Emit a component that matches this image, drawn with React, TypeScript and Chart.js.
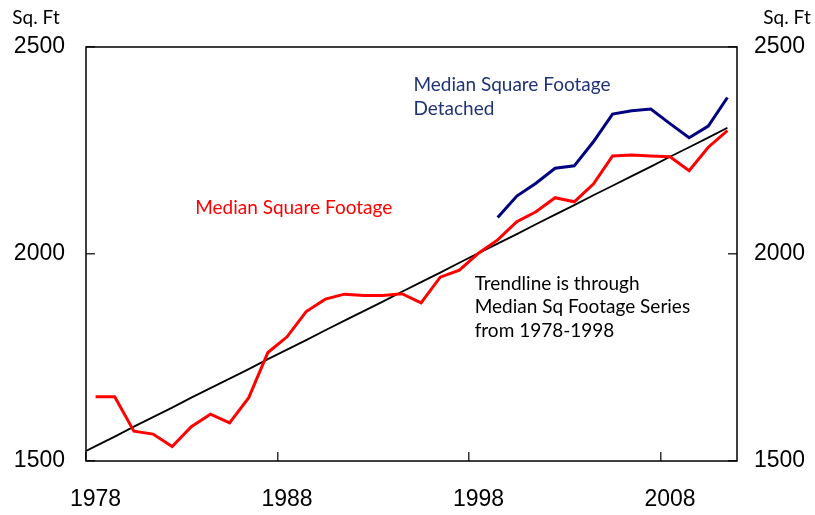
import { useEffect, useRef } from "react";
import { Chart, registerables } from "chart.js";
Chart.register(...registerables);

const years = [
  "1978","1979","1980","1981","1982","1983","1984","1985","1986","1987",
  "1988","1989","1990","1991","1992","1993","1994","1995","1996","1997",
  "1998","1999","2000","2001","2002","2003","2004","2005","2006","2007",
  "2008","2009","2010","2011",
];
const tickYears = ["1978", "1988", "1998", "2008"];
const medianSqFt = [
  1655, 1655, 1572, 1565, 1535, 1583, 1613, 1592, 1653, 1762,
  1800, 1861, 1891, 1903, 1900, 1900, 1904, 1882, 1944, 1961,
  2002, 2034, 2078, 2102, 2136, 2126, 2169, 2237, 2239, 2237,
  2235, 2201, 2258, 2298,
];
const medianDetached = [
  null, null, null, null, null, null, null, null, null, null,
  null, null, null, null, null, null, null, null, null, null,
  null, 2088, 2140, 2171, 2207, 2213, 2271, 2338, 2346, 2350,
  2315, 2281, 2309, 2378,
];
const trendYears = [
  1977.5, 1978, 1979, 1980, 1981, 1982, 1983, 1984, 1985, 1986, 1987,
  1988, 1989, 1990, 1991, 1992, 1993, 1994, 1995, 1996, 1997,
  1998, 1999, 2000, 2001, 2002, 2003, 2004, 2005, 2006, 2007,
  2008, 2009, 2010, 2011,
];
const trendValues = [
  1524, 1536, 1559, 1583, 1606, 1629, 1653, 1676, 1699, 1722, 1746,
  1769, 1792, 1816, 1839, 1862, 1885, 1909, 1932, 1955, 1979,
  2002, 2025, 2048, 2072, 2095, 2118, 2142, 2165, 2188, 2211,
  2235, 2258, 2281, 2305,
];
const yTicks = [1500, 2000, 2500];

const TEXT_FONT = "Lato, 'Open Sans', sans-serif";
const TICK_FONT = "'Liberation Sans', Arial, sans-serif";

const annotations = [
  { lines: ["Median Square Footage"], year: 1983.2, value: 2111, color: "#ff0000" },
  { lines: ["Median Square Footage", "Detached"], year: 1994.6, value: 2408, color: "#1f3473" },
  { lines: ["Trendline is through", "Median Sq Footage Series", "from 1978-1998"], year: 1997.8, value: 1928, color: "#000000" },
];

const decorPlugin = {
  id: "decor",
  afterDatasetsDraw(chart: any) {
    const { ctx, chartArea } = chart;
    ctx.save();
    ctx.strokeStyle = "#000";
    ctx.lineWidth = 1.5;
    ctx.strokeRect(chartArea.left, chartArea.top, chartArea.right - chartArea.left, chartArea.bottom - chartArea.top);
    const xs = chart.scales.x2;
    const ys = chart.scales.y;
    ctx.font = `19px ${TEXT_FONT}`;
    ctx.textBaseline = "middle";
    ctx.textAlign = "left";
    for (const a of annotations) {
      ctx.fillStyle = a.color;
      const x = xs.getPixelForValue(a.year);
      const y0 = ys.getPixelForValue(a.value);
      a.lines.forEach((l, i) => ctx.fillText(l, x, y0 + i * 23.5));
    }
    ctx.fillStyle = "#000";
    ctx.textAlign = "center";
    ctx.fillText("Sq. Ft", chartArea.left - 50, 18);
    ctx.fillText("Sq. Ft", chartArea.right + 50, 18);
    ctx.restore();
  },
};

export default function App() {
  const ref = useRef<HTMLCanvasElement>(null);
  useEffect(() => {
    if (!ref.current) return;
    const chart = new Chart(ref.current, {
      type: "line",
      data: {
        labels: years,
        datasets: [
          {
            label: "Median Square Footage Detached",
            data: medianDetached,
            borderColor: "#000080",
            borderWidth: 3,
            pointRadius: 0,
            tension: 0,
            spanGaps: false,
          },
          {
            label: "Median Square Footage",
            data: medianSqFt,
            borderColor: "#ff0000",
            borderWidth: 3,
            pointRadius: 0,
            tension: 0,
          },
          {
            label: "Trendline",
            data: trendYears.map((x, i) => ({ x, y: trendValues[i] })),
            xAxisID: "x2",
            borderColor: "#000000",
            borderWidth: 1.8,
            pointRadius: 0,
            tension: 0,
          } as any,
        ],
      },
      options: {
        animation: false,
        responsive: true,
        maintainAspectRatio: false,
        layout: { padding: { top: 47, left: 0, right: 0, bottom: 0 } },
        plugins: { legend: { display: false }, tooltip: { enabled: false } },
        scales: {
          x: {
            type: "category",
            offset: true,
            border: { display: false },
            grid: {
              offset: true,
              drawOnChartArea: false,
              drawTicks: true,
              tickLength: -9,
              lineWidth: 1.5,
              color: (c: any) => (tickYears.includes(years[c.index]) ? "#333" : "rgba(0,0,0,0)"),
            },
            ticks: {
              autoSkip: false,
              maxRotation: 0,
              padding: 34,
              color: "#000",
              font: { family: TICK_FONT, size: 23 },
              callback: (_v: any, i: number) => (tickYears.includes(years[i]) ? years[i] : ""),
            },
            afterFit: (s: any) => { s.height = 54; },
          },
          x2: {
            type: "linear",
            display: false,
            min: 1977.5,
            max: 2011.5,
          },
          y: {
            position: "left",
            min: 1500,
            max: 2500,
            border: { display: false },
            grid: { drawOnChartArea: false, tickLength: -9, lineWidth: 1.5, color: "#333" },
            afterBuildTicks: (s: any) => { s.ticks = yTicks.map((v) => ({ value: v })); },
            ticks: {
              padding: 30,
              color: "#000",
              font: { family: TICK_FONT, size: 23 },
              callback: (v: any) => String(v),
            },
            afterFit: (s: any) => { s.width = 86; },
          },
          y2: {
            position: "right",
            min: 1500,
            max: 2500,
            border: { display: false },
            grid: { drawOnChartArea: false, tickLength: -9, lineWidth: 1.5, color: "#333" },
            afterBuildTicks: (s: any) => { s.ticks = yTicks.map((v) => ({ value: v })); },
            ticks: {
              padding: 26,
              color: "#000",
              font: { family: TICK_FONT, size: 23 },
              callback: (v: any) => String(v),
            },
            afterFit: (s: any) => { s.width = 78; },
          },
        },
      },
      plugins: [decorPlugin],
    });
    return () => chart.destroy();
  }, []);
  return (
    <div style={{ position: "absolute", left: 0, top: 0, width: 815, height: 515, background: "#fff" }}>
      <canvas ref={ref} />
    </div>
  );
}
